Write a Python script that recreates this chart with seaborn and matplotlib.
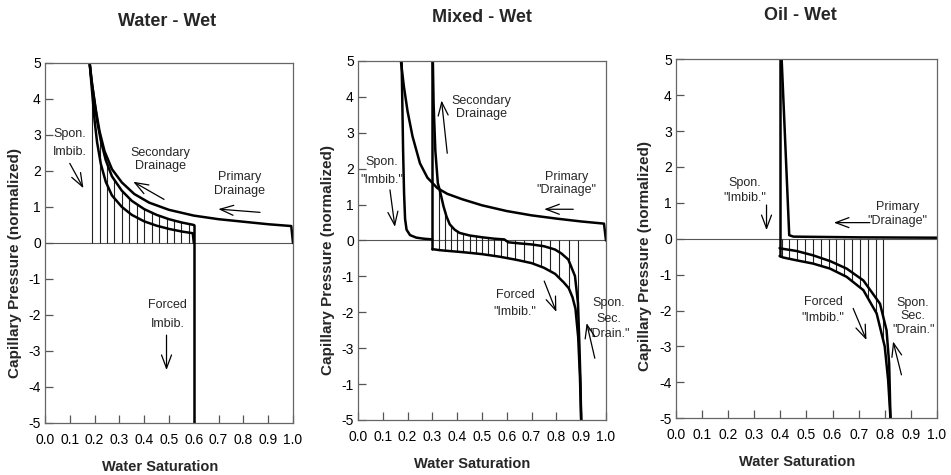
import numpy as np
import matplotlib
matplotlib.use("Agg")
import matplotlib.pyplot as plt
import seaborn as sns

sns.set_theme(style="ticks")
plt.rcParams['font.family'] = ['Liberation Sans', 'DejaVu Sans']
plt.rcParams['xtick.direction'] = 'in'
plt.rcParams['ytick.direction'] = 'in'

# axis ticks
x_ticks = [0.0, 0.1, 0.2, 0.3, 0.4, 0.5, 0.6, 0.7, 0.8, 0.9, 1.0]
x_tick_labels = ["0.0", "0.1", "0.2", "0.3", "0.4", "0.5", "0.6", "0.7", "0.8", "0.9", "1.0"]
y_ticks = [5, 4, 3, 2, 1, 0, -1, -2, -3, -4, -5]
y_labels_std = ["5", "4", "3", "2", "1", "0", "-1", "-2", "-3", "-4", "-5"]
y_labels_mixed = ["5", "4", "3", "2", "1", "0", "-1", "-2", "-3", "-1", "-5"]
titles = ["Water - Wet", "Mixed - Wet", "Oil - Wet"]

# ---- Water-wet ----
ww_pd_sw = [1.0, 0.993, 0.9, 0.8, 0.7, 0.6, 0.5, 0.42, 0.36, 0.31, 0.27, 0.24, 0.22, 0.205, 0.19, 0.18]
ww_pd_pc = [0.0, 0.47, 0.52, 0.59, 0.66, 0.76, 0.92, 1.12, 1.36, 1.68, 2.05, 2.55, 3.1, 3.7, 4.4, 5.0]
ww_sd_sw = [0.6, 0.55, 0.5, 0.45, 0.4, 0.35, 0.31, 0.27, 0.245, 0.225, 0.21, 0.198, 0.188, 0.18]
ww_sd_pc = [0.5, 0.57, 0.66, 0.78, 0.94, 1.17, 1.45, 1.85, 2.3, 2.85, 3.4, 4.0, 4.5, 5.0]
ww_si_sw = [0.6, 0.596, 0.55, 0.5, 0.45, 0.4, 0.35, 0.31, 0.27, 0.245, 0.225, 0.21, 0.2, 0.19, 0.18]
ww_si_pc = [0.0, 0.27, 0.32, 0.39, 0.48, 0.6, 0.78, 1.0, 1.32, 1.7, 2.2, 2.8, 3.4, 4.2, 5.0]
ww_fi_sw = [0.6, 0.6]
ww_fi_pc = [0.5, -5.0]
ww_hatch_sw = [0.19, 0.22, 0.25, 0.28, 0.31, 0.34, 0.37, 0.40, 0.43, 0.46, 0.49, 0.52, 0.55, 0.58]

# ---- Mixed-wet ----
mw_pd_sw = [1.0, 0.992, 0.9, 0.8, 0.7, 0.6, 0.5, 0.42, 0.36, 0.32, 0.28, 0.25, 0.22, 0.2, 0.185, 0.173]
mw_pd_pc = [0.0, 0.47, 0.53, 0.61, 0.7, 0.82, 0.98, 1.15, 1.3, 1.46, 1.75, 2.15, 2.9, 3.6, 4.3, 5.0]
mw_si_sw = [0.176, 0.179, 0.182, 0.186, 0.19, 0.196, 0.21, 0.235, 0.265, 0.3]
mw_si_pc = [5.0, 3.8, 2.5, 1.3, 0.6, 0.3, 0.15, 0.08, 0.05, 0.03]
mw_wall_sw = [0.3, 0.3]
mw_wall_pc = [5.0, -0.24]
mw_fi_sw = [0.3, 0.33, 0.43, 0.5, 0.57, 0.64, 0.7, 0.75, 0.795, 0.83, 0.85, 0.865, 0.877, 0.888, 0.895, 0.9]
mw_fi_pc = [-0.24, -0.27, -0.33, -0.38, -0.45, -0.54, -0.63, -0.76, -0.93, -1.17, -1.33, -1.58, -1.9, -2.7, -3.8, -5.0]
mw_sd_sw = [0.9, 0.897, 0.893, 0.887, 0.875, 0.848, 0.82, 0.794, 0.75, 0.7, 0.65, 0.606, 0.59, 0.55, 0.5,
            0.45, 0.41, 0.39, 0.37, 0.357, 0.345, 0.333, 0.322, 0.312, 0.305, 0.302]
mw_sd_pc = [-5.0, -3.9, -2.94, -1.74, -0.99, -0.53, -0.36, -0.25, -0.16, -0.11, -0.08, -0.05, 0.03, 0.05, 0.09,
            0.14, 0.21, 0.3, 0.45, 0.67, 0.95, 1.31, 1.6, 2.5, 3.8, 5.0]
mw_hatch_sw = [0.325, 0.35, 0.375, 0.4, 0.425, 0.45, 0.475, 0.5, 0.525, 0.55, 0.575,
               0.6, 0.635, 0.67, 0.705, 0.74, 0.775, 0.81, 0.85, 0.888]

# ---- Oil-wet ----
ow_pd_sw = [0.405, 0.434, 0.45, 0.7, 1.0]
ow_pd_pc = [5.0, 0.1, 0.06, 0.04, 0.03]
ow_wall_sw = [0.397, 0.397]
ow_wall_pc = [5.0, -0.48]
ow_fi_sw = [0.397, 0.41, 0.462, 0.525, 0.59, 0.654, 0.718, 0.769, 0.8, 0.813, 0.822]
ow_fi_pc = [-0.48, -0.52, -0.6, -0.69, -0.83, -1.06, -1.43, -2.08, -3.0, -3.93, -5.0]
ow_sd_sw = [0.822, 0.817, 0.807, 0.782, 0.718, 0.654, 0.59, 0.525, 0.462, 0.41, 0.397]
ow_sd_pc = [-5.0, -3.48, -2.55, -1.81, -1.16, -0.83, -0.62, -0.46, -0.34, -0.28, -0.26]
ow_hatch_sw = [0.405, 0.435, 0.465, 0.495, 0.525, 0.555, 0.585, 0.615, 0.645, 0.675, 0.705, 0.735, 0.765, 0.795]

# annotations: (text, sw, pc, linespacing)
ww_notes = [("Spon.\nImbib.", 0.10, 2.78, 1.65), ("Secondary\nDrainage", 0.464, 2.32, 1.1),
            ("Primary\nDrainage", 0.784, 1.64, 1.3), ("Forced\nImbib.", 0.495, -1.99, 1.7)]
ww_arrows = [((0.10, 2.21), (0.155, 1.52)), ((0.48, 1.21), (0.356, 1.70)),
             ((0.867, 0.85), (0.699, 0.94)), ((0.49, -2.56), (0.49, -3.53))]
mw_notes = [("Secondary\nDrainage", 0.499, 3.7, 1.15), ("Spon.\n\"Imbib.\"", 0.096, 1.94, 1.6),
            ("Primary\n\"Drainage\"", 0.841, 1.59, 1.1), ("Forced\n\"Imbib.\"", 0.633, -1.75, 1.6),
            ("Spon.\nSec.\n\"Drain.\"", 1.01, -2.18, 1.4)]
mw_arrows = [((0.36, 2.43), (0.337, 3.9)), ((0.129, 1.41), (0.149, 0.38)),
             ((0.868, 0.87), (0.751, 0.87)), ((0.751, -1.13), (0.80, -1.99)),
             ((0.955, -3.28), (0.922, -2.3))]
ow_notes = [("Spon.\n\"Imbib.\"", 0.264, 1.34, 1.33), ("Primary\n\"Drainage\"", 0.85, 0.7, 1.25),
            ("Forced\n\"Imbib.\"", 0.564, -1.98, 1.45), ("Spon.\nSec.\n\"Drain.\"", 0.909, -2.16, 1.2)]
ow_arrows = [((0.347, 0.94), (0.347, 0.24)), ((0.743, 0.45), (0.605, 0.45)),
             ((0.679, -1.94), (0.73, -2.82)), ((0.864, -3.79), (0.832, -2.86))]


def interp_desc(x, sw, pc):
    sw = np.asarray(sw)[::-1]
    pc = np.asarray(pc)[::-1]
    return np.interp(x, sw, pc)


fig = plt.figure(figsize=(9.51, 4.75), dpi=100)
fig.patch.set_facecolor("white")

ax1 = fig.add_axes([0.0473, 0.1095, 0.2608, 0.758])
ax2 = fig.add_axes([0.3764, 0.1158, 0.2608, 0.7558])
ax3 = fig.add_axes([0.7108, 0.1194, 0.2744, 0.7558])

curve_kw = dict(sort=False, estimator=None, color="black", lw=1.8)
hatch_kw = dict(color="#222222", lw=0.8)

# water-wet
sh = np.array(ww_hatch_sw)
ax1.vlines(sh, 0, interp_desc(sh, ww_sd_sw, ww_sd_pc), **hatch_kw)
for sw, pc in [(ww_pd_sw, ww_pd_pc), (ww_sd_sw, ww_sd_pc), (ww_si_sw, ww_si_pc), (ww_fi_sw, ww_fi_pc)]:
    sns.lineplot(x=sw, y=pc, ax=ax1, **curve_kw)

# mixed-wet
sh = np.array(mw_hatch_sw)
top = np.maximum(interp_desc(sh, mw_sd_sw, mw_sd_pc), 0)
ax2.vlines(sh, np.interp(sh, mw_fi_sw, mw_fi_pc), top, **hatch_kw)
for sw, pc in [(mw_pd_sw, mw_pd_pc), (mw_si_sw, mw_si_pc), (mw_wall_sw, mw_wall_pc),
               (mw_fi_sw, mw_fi_pc), (mw_sd_sw, mw_sd_pc)]:
    sns.lineplot(x=sw, y=pc, ax=ax2, **curve_kw)

# oil-wet
sh = np.array(ow_hatch_sw)
ax3.vlines(sh, np.interp(sh, ow_fi_sw, ow_fi_pc), 0, **hatch_kw)
for sw, pc in [(ow_pd_sw, ow_pd_pc), (ow_wall_sw, ow_wall_pc), (ow_fi_sw, ow_fi_pc), (ow_sd_sw, ow_sd_pc)]:
    sns.lineplot(x=sw, y=pc, ax=ax3, **curve_kw)

for ax, notes, arrows, ylab in [(ax1, ww_notes, ww_arrows, y_labels_std),
                                (ax2, mw_notes, mw_arrows, y_labels_mixed),
                                (ax3, ow_notes, ow_arrows, y_labels_std)]:
    ax.axhline(0, color="#555555", lw=0.8, zorder=1)
    ax.set_xlim(0, 1)
    ax.set_ylim(-5, 5)
    ax.set_xticks(x_ticks)
    ax.set_xticklabels(x_tick_labels)
    ax.set_yticks(y_ticks)
    ax.set_yticklabels(ylab)
    ax.tick_params(axis="both", direction="in", length=6, width=0.9, color="#555555",
                   labelsize=10, labelcolor="black")
    ax.tick_params(axis="x", pad=7)
    ax.tick_params(axis="y", pad=3)
    for s in ax.spines.values():
        s.set_color("#666666")
        s.set_linewidth(0.9)
    ax.set_xlabel("")
    ax.set_ylabel("")
    for txt, x, y, ls in notes:
        ax.text(x, y, txt, ha="center", va="center", fontsize=9, linespacing=ls, clip_on=False)
    for tail, head in arrows:
        ax.annotate("", xy=head, xytext=tail, annotation_clip=False,
                    arrowprops=dict(arrowstyle="->,head_length=0.8,head_width=0.3",
                                    lw=0.9, color="black", shrinkA=0, shrinkB=0))

# titles and axis labels
for (tx, ty), t in zip([(167, 21), (482, 18), (800, 16)], titles):
    fig.text(tx / 951, 1 - ty / 475, t, ha="center", va="center", fontsize=13, fontweight="bold")
for tx, ty in [(160, 467), (472, 464), (797, 462)]:
    fig.text(tx / 951, 1 - ty / 475, "Water Saturation", ha="center", va="center",
             fontsize=10.5, fontweight="bold")
for tx, ty in [(15, 263), (328, 260), (645, 256)]:
    fig.text(tx / 951, 1 - ty / 475, "Capillary Pressure (normalized)", ha="center", va="center",
             rotation=90, fontsize=11, fontweight="bold")

plt.savefig("out.png", dpi=100, facecolor="white")
